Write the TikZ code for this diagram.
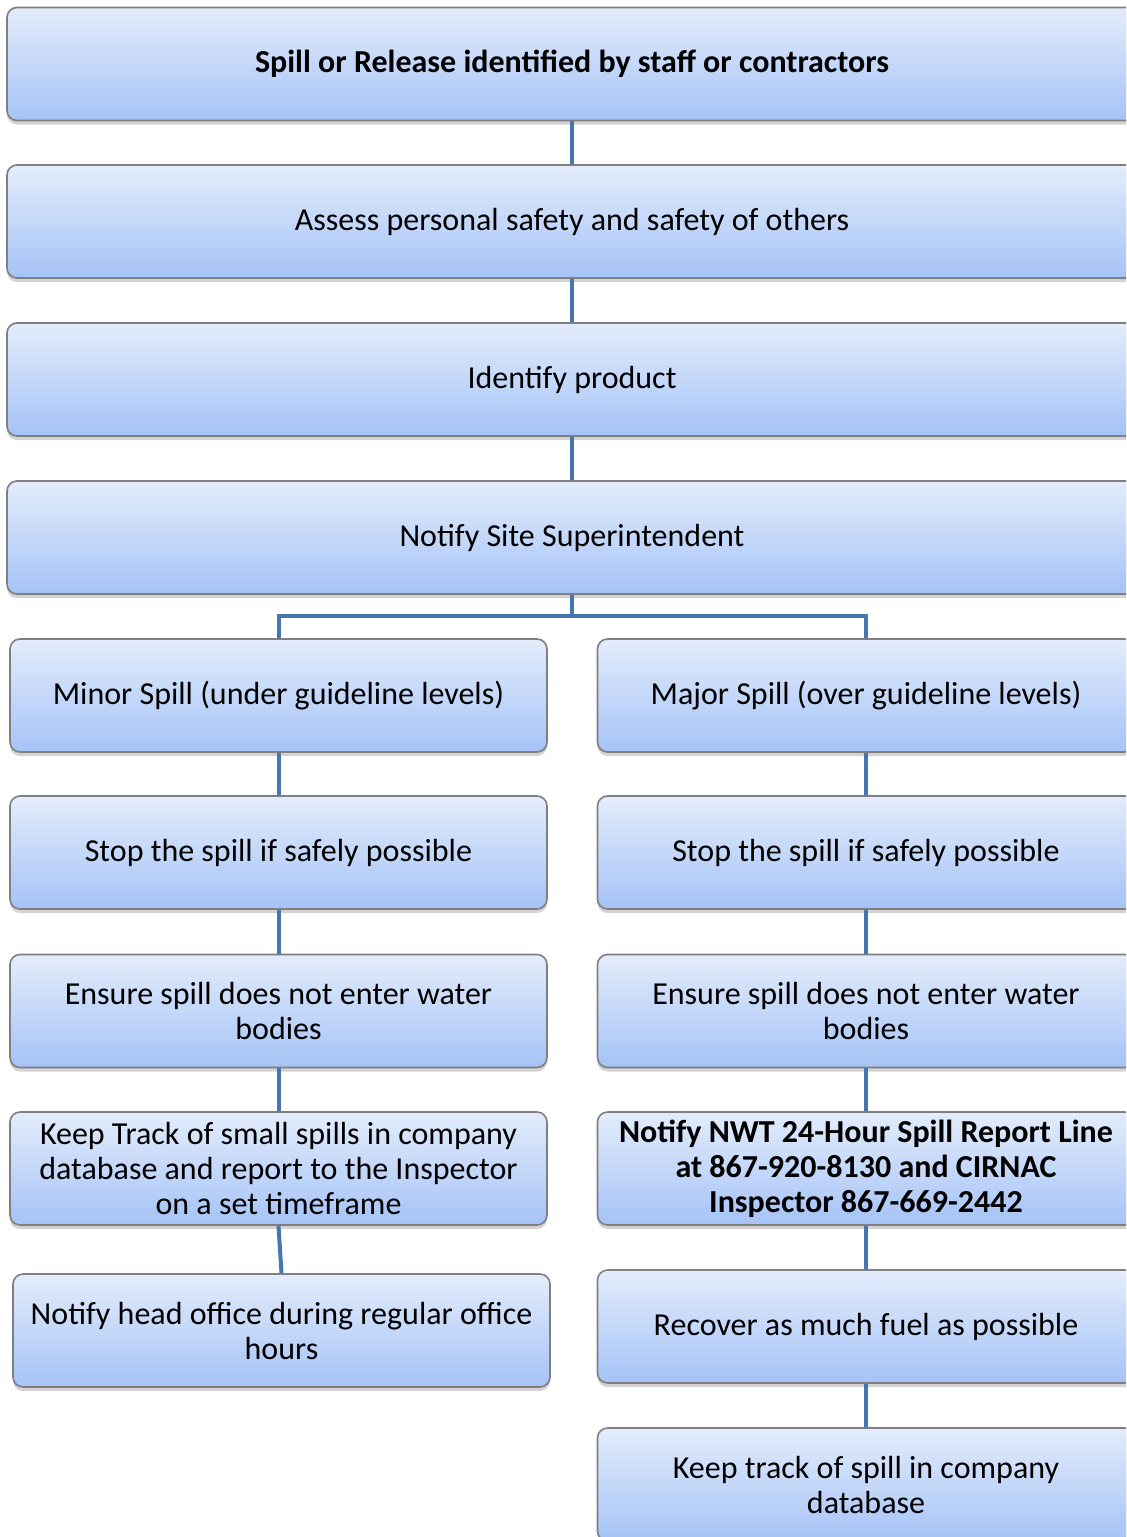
\documentclass[tikz,border=0pt]{standalone}
\usepackage{fontspec}
\setmainfont{Carlito}
\usetikzlibrary{shadows}

\definecolor{boxtop}{HTML}{E3ECFB}
\definecolor{boxbot}{HTML}{A5C3F7}
\definecolor{boxline}{HTML}{7F7F7F}
\definecolor{linkblue}{HTML}{4775B0}

\tikzset{
  stepbox/.style={draw=boxline, line width=0.8pt, rounded corners=5pt,
    top color=boxtop, bottom color=boxbot, minimum height=56.5pt,
    align=center, font=\fontsize{16}{17.5}\selectfont,
    drop shadow={shadow xshift=0pt, shadow yshift=-2pt, opacity=0.35}},
  widebox/.style={stepbox, minimum width=565pt},
  halfbox/.style={stepbox, minimum width=268.5pt},
  link/.style={draw=linkblue, line width=2pt}
}

\begin{document}
\begin{tikzpicture}[x=0.5pt,y=-0.5pt]
 \useasboundingbox (0,0) rectangle (1126,1537);
 \clip (0,0) rectangle (1126,1537);

 % main steps
 \node[widebox] (spill) at (572,64) {\textbf{Spill or Release identified by staff or contractors}};
 \node[widebox] (assess) at (572,221.5) {Assess personal safety and safety of others};
 \node[widebox] (ident) at (572,379.5) {Identify product};
 \node[widebox] (super) at (572,537.5) {Notify Site Superintendent};
 \coordinate (fork) at (572,616);

 % minor spill branch
 \node[halfbox] (minor) at (278.5,695.5) {Minor Spill (under guideline levels)};
 \node[halfbox] (mstop) at (278.5,852.5) {Stop the spill if safely possible};
 \node[halfbox] (mwater) at (278.5,1011) {Ensure spill does not enter water\\bodies};
 \node[halfbox] (mtrack) at (278.5,1168.5) {Keep Track of small spills in company\\database and report to the Inspector\\on a set timeframe};
 \node[halfbox] (mhead) at (281.5,1330.5) {Notify head office during regular office\\hours};

 % major spill branch
 \node[halfbox] (major) at (866,695.5) {Major Spill (over guideline levels)};
 \node[halfbox] (jstop) at (866,852.5) {Stop the spill if safely possible};
 \node[halfbox] (jwater) at (866,1011) {Ensure spill does not enter water\\bodies};
 \node[halfbox] (jnotify) at (866,1168.5) {\textbf{Notify NWT 24-Hour Spill Report Line}\\\textbf{at 867-920-8130 and CIRNAC}\\\textbf{Inspector 867-669-2442}};
 \node[halfbox] (jfuel) at (866,1326.5) {Recover as much fuel as possible};
 \node[halfbox] (jtrack) at (866,1484.5) {Keep track of spill in company\\database};

 % connectors
 \draw[link] (spill) -- (assess);
 \draw[link] (assess) -- (ident);
 \draw[link] (ident) -- (super);
 \draw[link] (super) -- (fork);
 \draw[link] (fork) -| (minor.north);
 \draw[link] (fork) -| (major.north);
 \draw[link] (minor) -- (mstop);
 \draw[link] (mstop) -- (mwater);
 \draw[link] (mwater) -- (mtrack);
 \draw[link] (mtrack.south) -- (mhead.north);
 \draw[link] (major) -- (jstop);
 \draw[link] (jstop) -- (jwater);
 \draw[link] (jwater) -- (jnotify);
 \draw[link] (jnotify) -- (jfuel);
 \draw[link] (jfuel) -- (jtrack);
\end{tikzpicture}
\end{document}
